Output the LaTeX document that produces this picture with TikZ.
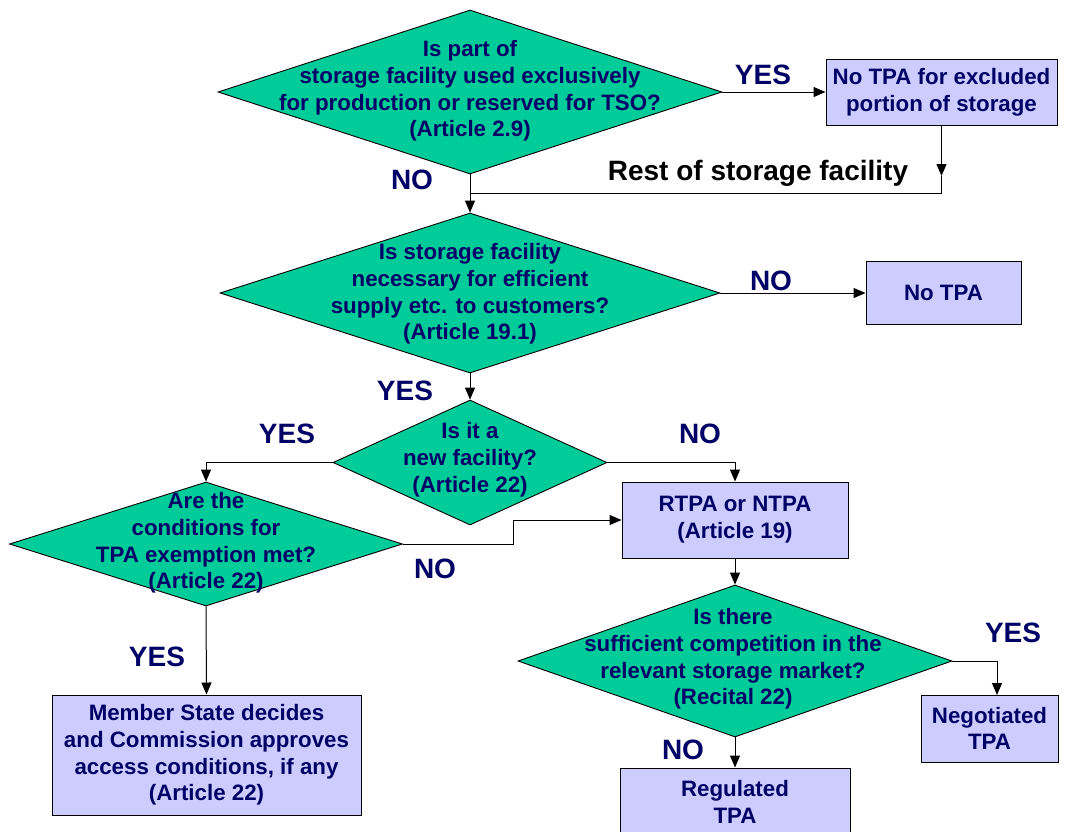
\documentclass[tikz,border=0pt]{standalone}
\usepackage{fontspec}
\setmainfont{Liberation Sans}
\usetikzlibrary{shapes.geometric,arrows.meta}
\definecolor{dgreen}{RGB}{0,204,153}
\definecolor{lbox}{RGB}{204,204,255}
\definecolor{navy}{RGB}{0,0,102}
\tikzset{
  dia/.style={diamond, draw=black, line width=0.9pt, fill=dgreen, inner sep=0pt},
  dtext/.style={align=center, text=navy, font=\bfseries\fontsize{22.3}{26.8}\selectfont},
  bx/.style={rectangle, draw=black, line width=1pt, fill=lbox, align=center, text=navy, inner sep=0pt, font=\bfseries\fontsize{22.3}{26.8}\selectfont},
  lab/.style={text=navy, font=\bfseries\fontsize{28}{30}\selectfont, inner sep=0pt},
  conn/.style={draw=black, line width=1pt},
  arr/.style={conn, -{Triangle[length=12pt,width=10pt]}},
}
\begin{document}
\begin{tikzpicture}[x=1pt,y=-1pt]
\clip (0,0) rectangle (1065,831);
\fill[white] (0,0) rectangle (1065,831);
% diamonds
\node[dia, minimum width=504pt, minimum height=164pt] (d1) at (470,92) {};
\node[dtext] (t1) at (470,91) {Is part of\\storage facility used exclusively\\for production or reserved for TSO?\\(Article 2.9)};
\node[dia, minimum width=500pt, minimum height=160pt] (d2) at (470,293) {};
\node[dtext] (t2) at (470,294) {Is storage facility\\necessary for efficient\\supply etc. to customers?\\(Article 19.1)};
\node[dia, minimum width=274pt, minimum height=125pt] (d3) at (470,462.5) {};
\node[dtext] (t3) at (470,460) {Is it a\\new facility?\\(Article 22)};
\node[dia, minimum width=393pt, minimum height=124pt] (d4) at (206,544) {};
\node[dtext] (t4) at (206,543) {Are the\\conditions for\\TPA exemption met?\\(Article 22)};
\node[dia, minimum width=434pt, minimum height=152pt] (d5) at (735,661) {};
\node[dtext] (t5) at (733,659) {Is there\\sufficient competition in the\\relevant storage market?\\(Recital 22)};
% boxes
\node[bx, minimum width=231pt, minimum height=66pt] (b1) at (941.5,92) {No TPA for excluded\\portion of storage};
\node[bx, minimum width=155pt, minimum height=63pt] (b2) at (943.5,293) {No TPA};
\node[bx, minimum width=309pt, minimum height=120pt] (ms) at (206.5,755) {Member State decides\\and Commission approves\\access conditions, if any\\(Article 22)};
\node[bx, minimum width=226pt, minimum height=76pt] (rtpa) at (735,520) {RTPA or NTPA\\(Article 19)};
\node[bx, minimum width=137pt, minimum height=67pt] (neg) at (989.5,728.5) {Negotiated\\TPA};
\node[bx, minimum width=230pt, minimum height=68pt] (reg) at (735,802) {Regulated\\TPA};
% helper coordinates
\coordinate (m1) at (941.5,176);
\coordinate (j1) at (941.5,193);
\coordinate (j2) at (470,193);
\coordinate (k1) at (513,544);
\coordinate (k2) at (997,661);
\coordinate (negtop) at (997,695);
% connectors
\draw[arr] (d1.east) -- (b1.west);
\draw[arr] (b1.south) -- (m1);
\draw[conn] (m1) -- (j1) -- (j2);
\draw[arr] (d1.south) -- (d2.north);
\draw[arr] (d2.east) -- (b2.west);
\draw[arr] (d2.south) -- (d3.north);
\draw[arr] (d3.west) -| (d4.north);
\draw[arr] (d3.east) -| (rtpa.north);
\draw[arr] (d4.east) -- (k1) |- (rtpa.west);
\draw[arr] (d4.south) -- (ms.north);
\draw[arr] (rtpa.south) -- (d5.north);
\draw[arr] (d5.east) -- (k2) -- (negtop);
\draw[arr] (d5.south) -- (reg.north);
% labels
\node[lab] (l1) at (763,75) {YES};
\node[lab] (l2) at (412,180) {NO};
\node[lab, text=black] (l3) at (758,173) {Rest of storage facility};
\node[lab] (l4) at (771,281) {NO};
\node[lab] (l5) at (405,391) {YES};
\node[lab] (l6) at (287,434) {YES};
\node[lab] (l7) at (700,434) {NO};
\node[lab] (l8) at (435,569) {NO};
\node[lab] (l9) at (157,657) {YES};
\node[lab] (l10) at (1013,633) {YES};
\node[lab] (l11) at (683,750) {NO};
\end{tikzpicture}
\end{document}
